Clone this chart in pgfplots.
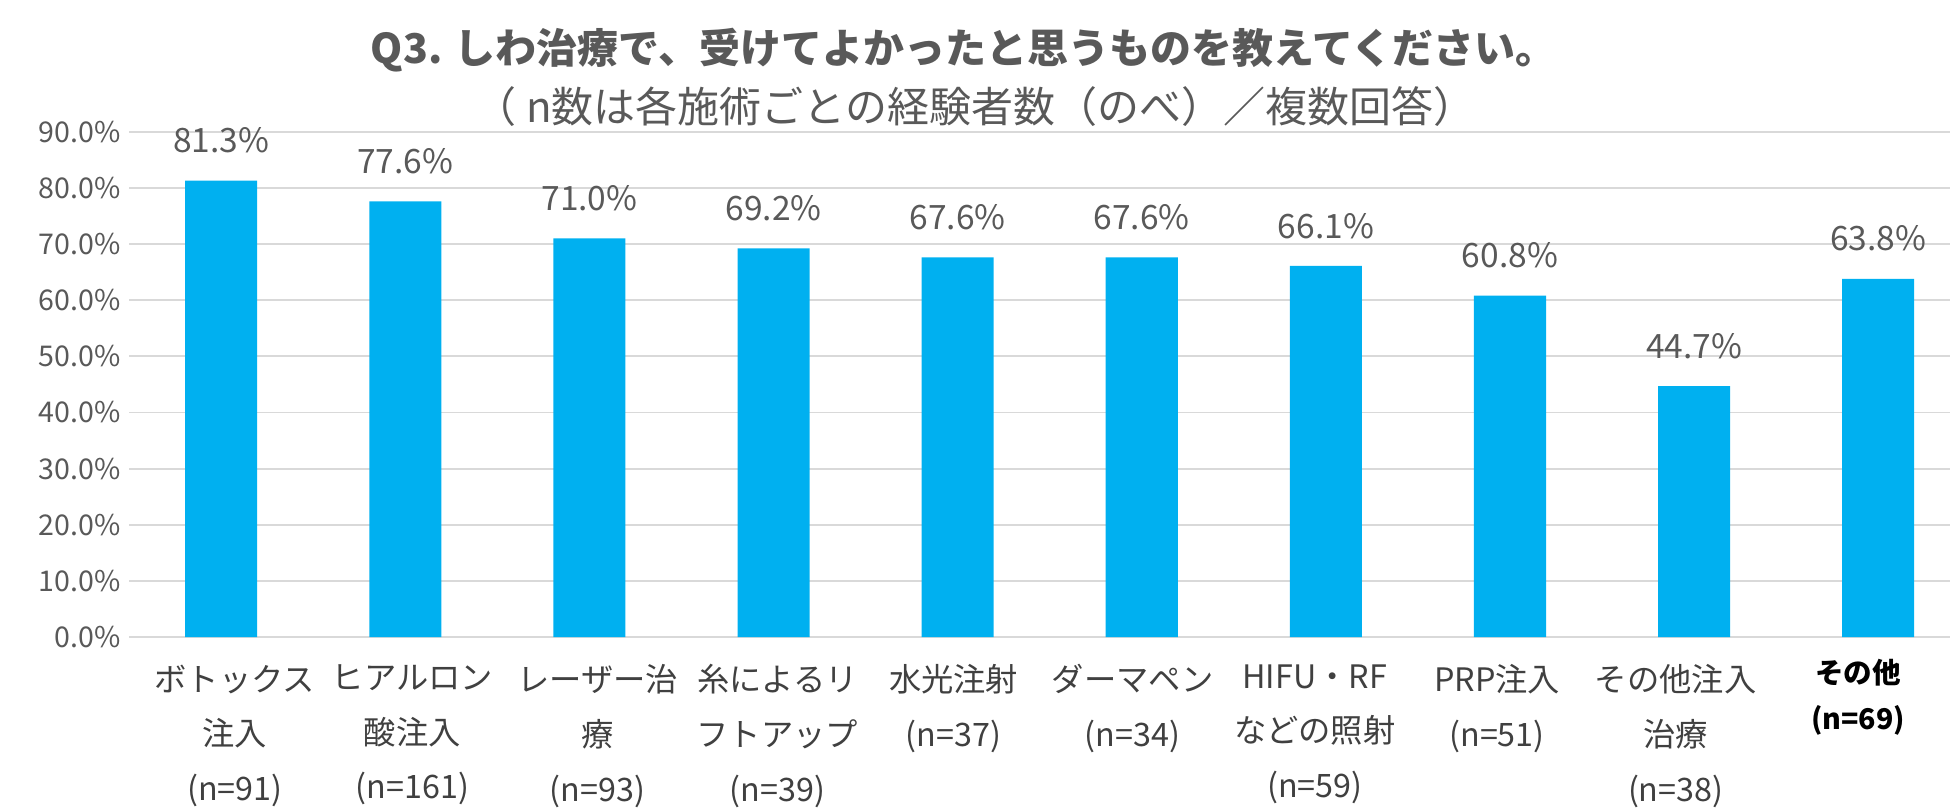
\documentclass[border=0pt]{standalone}
\usepackage{pgfplots}
\pgfplotsset{compat=1.18}
\usepackage{fontspec}
\setmainfont{Noto Sans CJK JP}
\definecolor{barblue}{HTML}{00B0F0}
\definecolor{gridgray}{HTML}{D9D9D9}
\definecolor{txtgray}{HTML}{595959}
\definecolor{lblgray}{HTML}{404040}
\begin{document}
\begin{tikzpicture}
\path[use as bounding box] (-52pt,-69pt) rectangle (733pt,256.5pt);
\begin{axis}[
  at={(0,0)}, anchor=south west,
  scale only axis,
  width=733pt, height=203.5pt,
  xmin=-0.5, xmax=9.39,
  ymin=0, ymax=90,
  ytick={0,10,...,90},
  yticklabel={\pgfmathprintnumber[fixed,fixed zerofill,precision=1]{\tick}\%},
  /pgf/number format/assume math mode=true,
  yticklabel style={font=\fontsize{11.5}{13}\selectfont, text=txtgray},
  xtick={0.074,1.038,2.044,3.021,3.978,4.95,5.94,6.93,7.90},
  xticklabels={{ボトックス\\注入\\(n=91)},{ヒアルロン\\酸注入\\(n=161)},{レーザー治\\療\\(n=93)},{糸によるリ\\フトアップ\\(n=39)},{水光注射\\(n=37)},{ダーマペン\\(n=34)},{HIFU・RF\\などの照射\\(n=59)},{PRP注入\\(n=51)},{その他注入\\治療\\(n=38)}},
  xticklabel style={font=\fontsize{13}{22}\selectfont, text=lblgray, align=center, anchor=north, yshift=-7.5pt},
  ymajorgrids,
  grid style={gridgray, line width=0.75pt},
  axis line style={draw=none},
  tick style={draw=none},
  clip=false,
  nodes near coords={\pgfmathprintnumber[fixed,fixed zerofill,precision=1]{\pgfplotspointmeta}\%},
  nodes near coords style={font=\fontsize{13.5}{15}\selectfont, text=txtgray, anchor=south, yshift=7.5pt},
]
\addplot[ybar, bar width=29pt, fill=barblue, draw=none] coordinates {
(0,81.3) (1,77.6) (2,71.0) (3,69.2) (4,67.6) (5,67.6) (6,66.1) (7,60.8) (8,44.7) (9,63.8)};
\node[font=\fontsize{11.5}{18.5}\selectfont\bfseries, text=black, align=center, anchor=north] at (axis cs:8.89,0) [yshift=-5.5pt] {その他\\(n=69)};
\end{axis}
\node[font=\fontsize{16.5}{18}\selectfont\bfseries, text=txtgray] at (336pt,236.5pt) {Q3. しわ治療で、受けてよかったと思うものを教えてください。};
\node[font=\fontsize{16.9}{18}\selectfont, text=txtgray] at (340.5pt,213.5pt) {（ n数は各施術ごとの経験者数（のべ）／複数回答）};
\end{tikzpicture}
\end{document}
